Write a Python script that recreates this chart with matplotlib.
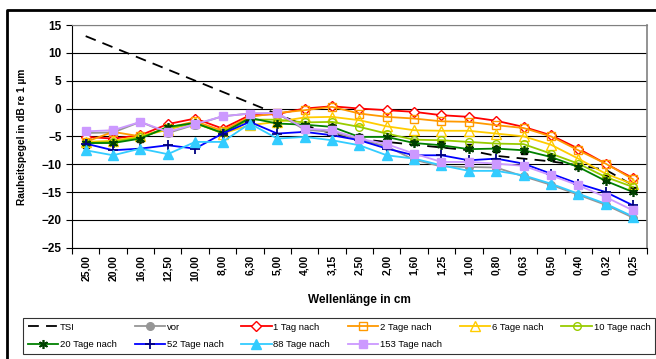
import numpy as np
import matplotlib
matplotlib.use('Agg')
import matplotlib.pyplot as plt
from matplotlib.lines import Line2D

plt.rcParams['font.family'] = ['Liberation Sans', 'DejaVu Sans']

# wavelength bands (cm), left to right
wavelengths = ['25,00', '20,00', '16,00', '12,50', '10,00', '8,00', '6,30', '5,00', '4,00', '3,15', '2,50',
               '2,00', '1,60', '1,25', '1,00', '0,80', '0,63', '0,50', '0,40', '0,32', '0,25']

# roughness levels in dB re 1 um
tsi = [13, 11, 9, 7, 5, 3, 1, -1, -3, -4.5, -5.5, -6, -6.5, -7, -7.5, -8.5, -9, -9.5, -10.2, -11, -13.8]
vor = [-4.4, -4.3, -2.4, -4.4, -2.9, -1.4, -0.9, -0.9, -3.8, -4.2, -5.6, -6.8, -9.2, -10.4, -10.5, -10.6,
       -12.2, -13.7, -15.5, -17.3, -19.6]
tag1 = [-5.1, -5.4, -4.8, -2.8, -1.8, -3.6, -1.2, -1.0, 0.0, 0.4, 0.0, -0.3, -0.6, -1.2, -1.5, -2.2,
        -3.3, -4.8, -7.2, -9.9, -12.5]
tage2 = [-6.0, -4.2, -5.0, -3.5, -2.3, -4.0, -1.5, -0.8, -0.3, 0.3, -0.9, -1.5, -1.8, -2.3, -2.4, -3.0,
         -3.5, -5.0, -7.5, -9.9, -12.7]
tage6 = [-6.0, -5.8, -5.0, -3.8, -2.5, -4.5, -3.0, -2.4, -1.6, -1.5, -2.1, -3.2, -3.9, -4.0, -4.0, -4.5,
         -5.0, -6.5, -9.0, -11.7, -13.6]
tage10 = [-6.2, -6.0, -5.2, -3.5, -2.7, -4.3, -2.0, -2.0, -2.5, -2.4, -3.3, -4.5, -5.6, -5.7, -6.0, -6.3,
          -6.4, -8.1, -9.9, -12.3, -14.1]
tage20 = [-6.2, -6.2, -5.4, -3.3, -2.6, -4.4, -1.7, -2.7, -2.9, -3.3, -5.1, -5.1, -6.2, -6.6, -7.3, -7.2,
          -7.5, -8.7, -10.5, -13.0, -15.0]
tage52 = [-6.3, -7.5, -7.2, -6.6, -7.2, -4.5, -2.4, -4.5, -4.2, -4.8, -5.7, -7.2, -8.4, -8.4, -9.3, -9.0,
          -9.9, -11.7, -13.5, -15.0, -17.4]
tage88 = [-7.5, -8.4, -7.2, -8.2, -6.0, -6.0, -2.7, -5.4, -5.1, -5.7, -6.6, -8.4, -9.0, -10.2, -11.2, -11.2,
          -12.0, -13.5, -15.3, -17.1, -19.4]
tage153 = [-4.1, -3.9, -2.4, -4.2, -2.8, -1.4, -0.9, -0.8, -3.6, -3.9, -5.4, -6.4, -8.1, -9.6, -9.6, -9.9,
           -10.3, -12.0, -13.8, -15.9, -18.3]
# extra black square series that has no legend entry
extra = [-6.5, -6.1, -5.5, -3.5, -3.0, -4.3, -1.8, -2.6, -3.1, -3.4, -5.2, -6.2, -6.1, -6.3, -7.0, -7.2,
         -7.7, -8.7, -10.4, -12.4, -14.6]

x = np.arange(len(wavelengths))

fig = plt.figure(figsize=(6.56, 3.59), dpi=100)
ax = fig.add_axes([72/656, 1-247.7/359, (646.7-72)/656, (247.7-25)/359])

ax.set_axisbelow(True)
ax.yaxis.grid(True, color='black', lw=0.8)

lw = 1.3
ms = 5.5
h = {}
h['TSI'], = ax.plot(x, tsi, color='black', lw=lw, ls=(0, (6, 4)))
ax.plot(x, extra, ls='none', marker='s', color='black', ms=5)
h['vor'], = ax.plot(x, vor, color='#969696', lw=lw, marker='o', ms=ms)
h['1 Tag nach'], = ax.plot(x, tag1, color='#FF0000', lw=lw, marker='D', ms=5, mfc='white', mew=1)
h['2 Tage nach'], = ax.plot(x, tage2, color='#FF9900', lw=lw, marker='s', ms=ms, mfc='none', mew=1)
h['6 Tage nach'], = ax.plot(x, tage6, color='#FFCC00', lw=lw, marker='^', ms=ms+1, mfc='none', mew=1)
h['10 Tage nach'], = ax.plot(x, tage10, color='#99CC00', lw=lw, marker='o', ms=ms, mfc='none', mew=1)
h['20 Tage nach'], = ax.plot(x, tage20, color='#008000', lw=lw, marker=(6, 2, 0), ms=ms+1, mew=1.2,
                             mec='#004000')
h['52 Tage nach'], = ax.plot(x, tage52, color='#0000FF', lw=lw, marker='+', ms=ms+2, mew=1.3, mec='#000080')
h['88 Tage nach'], = ax.plot(x, tage88, color='#33CCFF', lw=lw, marker='^', ms=ms+1)
h['153 Tage nach'], = ax.plot(x, tage153, color='#CC99FF', lw=lw, marker='s', ms=ms)

ax.set_xlim(-0.5, len(wavelengths) - 0.5)
ax.set_ylim(-25, 15)
ax.set_yticks(np.arange(-25, 16, 5))
ax.set_xticks(x)
ax.set_xticklabels(wavelengths, rotation=90, fontsize=7.5, fontweight='bold')
ax.set_xticks(np.arange(-0.5, len(wavelengths)), minor=True)
ax.tick_params(axis='x', which='major', length=0, pad=5)
ax.tick_params(axis='x', which='minor', length=4, direction='out', width=0.8)
ax.tick_params(axis='y', length=4, direction='out', width=0.8, labelsize=8.5)
for t in ax.get_yticklabels():
    t.set_fontweight('bold')

ax.spines['left'].set_color('black')
ax.spines['bottom'].set_color('black')
ax.spines['top'].set_color('#808080')
ax.spines['right'].set_color('#808080')
ax.spines['right'].set_linewidth(1.2)

fig.text(22/656, 1-137/359, 'Rauheitspegel in dB re 1 µm', rotation=90, ha='center', va='center',
         fontsize=7.3, fontweight='bold')
fig.text(359/656, 1-300/359, 'Wellenlänge in cm', ha='center', va='center', fontsize=8.5, fontweight='bold')

# outer chart frame (cut off at right and bottom)
fig.add_artist(Line2D([7/656, 7/656, 1.0], [0, 1-10/359, 1-10/359], transform=fig.transFigure,
                      color='black', lw=2))

order = ['TSI', '20 Tage nach', 'vor', '52 Tage nach', '1 Tag nach', '88 Tage nach', '2 Tage nach',
         '153 Tage nach', '6 Tage nach', '10 Tage nach']
leg = fig.legend([h[k] for k in order], order, loc='upper left',
                 bbox_to_anchor=(23/656, 1-318/359, (655-23)/656, 0.0), mode='expand', ncol=6,
                 fancybox=False, edgecolor='black', handlelength=3.2, handletextpad=0.2,
                 borderaxespad=0, labelspacing=0.9, borderpad=0.5,
                 prop={'family': ['Liberation Sans Narrow', 'Liberation Sans'], 'size': 6.8})
leg.get_frame().set_linewidth(0.8)

fig.savefig('out.png', dpi=100)
